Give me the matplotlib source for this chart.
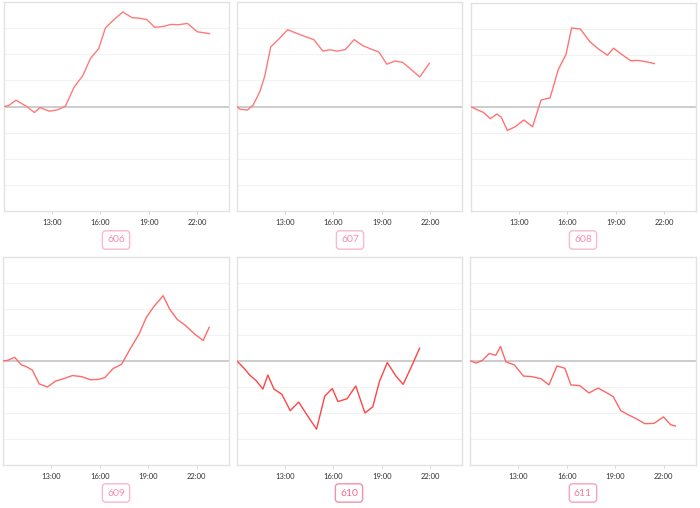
import matplotlib
matplotlib.use("Agg")
import matplotlib.pyplot as plt

plt.rcParams['font.family'] = ['Lato', 'DejaVu Sans']

names = ["606", "607", "608", "609", "610", "611"]

t606 = [10.0, 10.27, 10.75, 11.41, 11.89, 12.24, 12.82, 13.32, 13.82, 14.36, 14.9, 15.39, 15.89,
        16.31, 16.85, 17.39, 17.97, 18.42, 18.88, 19.38, 19.88, 20.37, 20.87, 21.41, 22.03, 22.78]
v606 = [0, 0.03, 0.24, 0, -0.23, -0.04, -0.18, -0.13, 0.01, 0.74, 1.18, 1.85, 2.21,
        3.01, 3.33, 3.62, 3.4, 3.38, 3.33, 3.03, 3.06, 3.14, 3.13, 3.18, 2.86, 2.79]

t607 = [10.0, 10.18, 10.64, 11.01, 11.43, 11.72, 12.1, 12.62, 13.15, 13.67, 14.19, 14.78, 15.34,
        15.76, 16.24, 16.74, 17.29, 17.85, 18.38, 18.84, 19.32, 19.84, 20.3, 20.85, 21.37, 21.97]
v607 = [0, -0.1, -0.14, 0.06, 0.58, 1.15, 2.28, 2.59, 2.94, 2.81, 2.69, 2.56, 2.12,
        2.17, 2.12, 2.18, 2.56, 2.32, 2.19, 2.08, 1.62, 1.74, 1.69, 1.41, 1.13, 1.65]

t608 = [10.02, 10.37, 10.78, 11.2, 11.61, 11.88, 12.26, 12.75, 13.29, 13.83, 14.36, 14.92, 15.43,
        15.91, 16.26, 16.8, 17.4, 17.91, 18.49, 18.87, 19.36, 19.93, 20.43, 20.9, 21.41]
v608 = [0, -0.1, -0.21, -0.45, -0.27, -0.39, -0.9, -0.76, -0.5, -0.76, 0.27, 0.35, 1.44,
        2.02, 3.04, 3.0, 2.51, 2.24, 1.99, 2.26, 2.03, 1.78, 1.79, 1.74, 1.67]

t609 = [10.0, 10.31, 10.72, 11.14, 11.45, 11.82, 12.24, 12.75, 13.27, 13.76, 14.3, 14.86, 15.42, 15.89,
        16.31, 16.82, 17.34, 17.9, 18.43, 18.88, 19.34, 19.92, 20.33, 20.79, 21.28, 21.88, 22.4, 22.77]
v609 = [0, 0.03, 0.14, -0.15, -0.22, -0.35, -0.88, -1.0, -0.77, -0.68, -0.56, -0.6, -0.72, -0.71,
        -0.64, -0.29, -0.13, 0.49, 1.04, 1.68, 2.09, 2.51, 1.99, 1.6, 1.38, 1.03, 0.79, 1.29]

t610 = [10.0, 10.44, 10.79, 11.2, 11.61, 11.92, 12.3, 12.79, 13.31, 13.84, 14.38, 14.95, 15.46,
        15.93, 16.28, 16.85, 17.39, 17.96, 18.45, 18.86, 19.35, 19.89, 20.34, 20.85, 21.36]
v610 = [0, -0.28, -0.54, -0.76, -1.08, -0.54, -1.08, -1.28, -1.91, -1.58, -2.1, -2.62, -1.35,
        -1.06, -1.56, -1.45, -0.96, -2.0, -1.76, -0.79, -0.06, -0.58, -0.9, -0.22, 0.49]

t611 = [10.04, 10.39, 10.78, 11.19, 11.6, 11.89, 12.22, 12.75, 13.31, 13.82, 14.4, 14.89, 15.39, 15.88,
        16.25, 16.81, 17.37, 17.94, 18.46, 18.87, 19.34, 19.84, 20.33, 20.83, 21.4, 21.98, 22.43, 22.72]
v611 = [0, -0.08, 0.03, 0.29, 0.22, 0.56, -0.03, -0.15, -0.58, -0.6, -0.68, -0.92, -0.19, -0.28,
        -0.92, -0.95, -1.23, -1.04, -1.22, -1.37, -1.91, -2.08, -2.23, -2.41, -2.4, -2.15, -2.45, -2.5]

times = [t606, t607, t608, t609, t610, t611]
values = [v606, v607, v608, v609, v610, v611]

tick_hours = [13, 16, 19, 22]
tick_labels = ["13:00", "16:00", "19:00", "22:00"]

line_colors = ["#ff7a7a", "#ff7a7a", "#ff7373", "#ff6b6b", "#ff4545", "#ff6666"]
label_text = ["#f48fb1", "#f48fb1", "#f48fb1", "#f48fb1", "#ef6a90", "#f07a9c"]
label_edge = ["#f9b8cc", "#f9b8cc", "#f9b8cc", "#f9b8cc", "#f590ac", "#f6a2bb"]

W, H = 700, 508
fig = plt.figure(figsize=(7.0, 5.08), dpi=100)

# pixel boxes: left, top, right, bottom
boxes = [(4, 2, 229, 211), (237, 2, 462, 211), (471, 3, 696, 211),
         (3, 257, 229, 465), (237, 257, 462, 465), (470, 257, 696, 465)]
label_pos = [(116, 240), (350, 240), (583, 240), (116, 493), (349, 493), (583, 493)]

for i in range(6):
    l, t, r, b = boxes[i]
    ax = fig.add_axes([l / W, 1 - b / H, (r - l) / W, (b - t) / H])
    ax.set_xlim(10, 24)
    ax.set_ylim(-4, 4)
    for g in [-3, -2, -1, 1, 2, 3]:
        ax.axhline(g, color="#f2f2f2", lw=0.8, zorder=1)
    ax.axhline(0, color="#c8c8c8", lw=1.3, zorder=2)
    ax.plot(times[i], values[i], color=line_colors[i], lw=1.0, zorder=3)
    ax.set_yticks([])
    ax.set_xticks(tick_hours)
    ax.set_xticklabels(tick_labels, fontsize=5.5, color="#333333")
    ax.tick_params(axis="x", length=2.5, width=0.6, color="#d0d0d0", pad=3)
    for s in ax.spines.values():
        s.set_color("#e2e2e2")
        s.set_linewidth(1.0)
    cx, cy = label_pos[i]
    fig.text(cx / W, 1 - cy / H, names[i], ha="center", va="center",
             fontsize=7.5, color=label_text[i],
             bbox=dict(boxstyle="round,pad=0.45,rounding_size=0.3", fc="white",
                       ec=label_edge[i], lw=1.0))

fig.savefig("out.png", dpi=100, facecolor="white")
